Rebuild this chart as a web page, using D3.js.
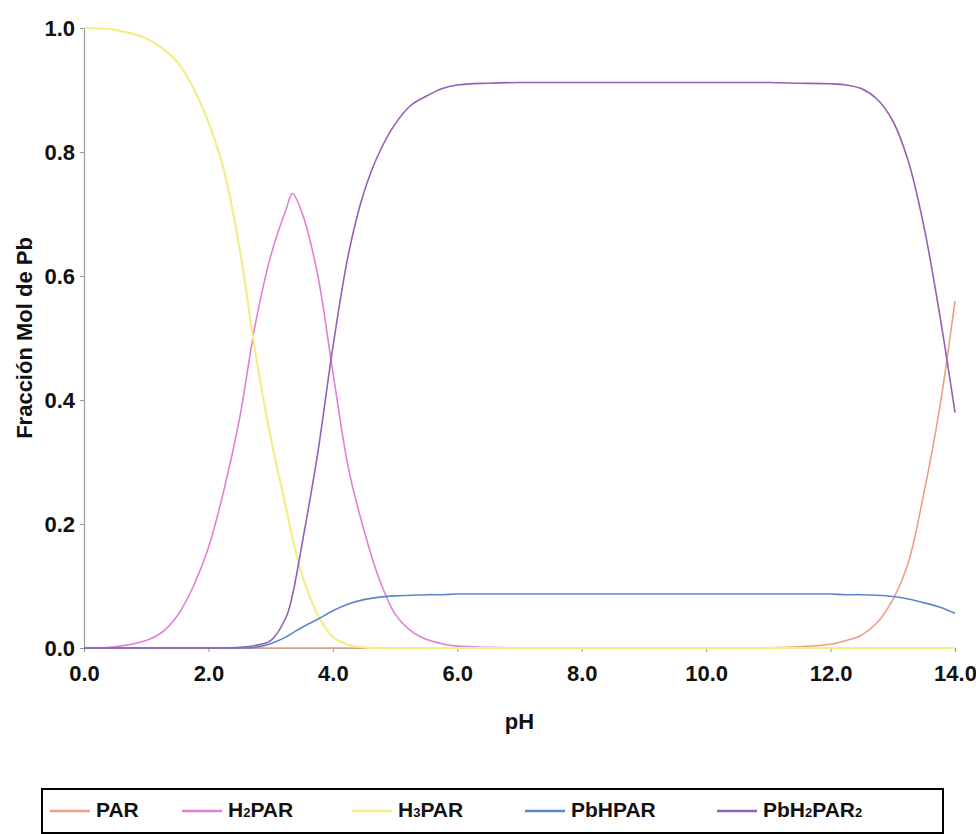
<!DOCTYPE html>
<html>
<head>
<meta charset="utf-8">
<script src="https://cdn.jsdelivr.net/npm/d3@7"></script>
<style>
  html, body { margin: 0; padding: 0; background: #fff; }
  svg text { font-family: "Liberation Sans", Arial, sans-serif; font-weight: bold; fill: #111; }
</style>
</head>
<body>
<svg id="chart" width="976" height="834"></svg>
<script>
// ---- Data ----
const phGrid = [0, 0.5, 1, 1.25, 1.5, 1.75, 2, 2.25, 2.5, 2.75, 3, 3.25, 3.35, 3.5, 3.75, 4, 4.25, 4.5, 4.75, 5,
                5.25, 5.5, 5.75, 6, 6.5, 7, 8, 9, 10, 11, 11.5, 12, 12.25, 12.5, 12.75, 13, 13.25, 13.5, 13.75, 14];

const parValues = [0, 0, 0, 0, 0, 0, 0, 0, 0, 0, 0, 0, 0, 0, 0, 0, 0, 0, 0, 0,
                   0, 0, 0, 0, 0, 0, 0, 0, 0, 0.0005, 0.002, 0.006, 0.012, 0.021, 0.041, 0.078, 0.138, 0.25, 0.385, 0.56];

const h2parValues = [0, 0.002, 0.012, 0.025, 0.052, 0.098, 0.162, 0.255, 0.37, 0.52, 0.632, 0.708, 0.733, 0.703, 0.605, 0.445, 0.29, 0.19, 0.11, 0.055,
                     0.028, 0.014, 0.007, 0.003, 0.001, 0, 0, 0, 0, 0, 0, 0, 0, 0, 0, 0, 0, 0, 0, 0];

const h3parValues = [1.0, 0.997, 0.983, 0.968, 0.945, 0.905, 0.848, 0.77, 0.645, 0.48, 0.34, 0.225, 0.178, 0.12, 0.055, 0.018, 0.005, 0.001, 0, 0,
                     0, 0, 0, 0, 0, 0, 0, 0, 0, 0, 0, 0, 0, 0, 0, 0, 0, 0, 0, 0];

const pbhparValues = [0, 0, 0, 0, 0, 0, 0, 0, 0, 0.001, 0.007, 0.018, 0.024, 0.033, 0.046, 0.06, 0.071, 0.078, 0.082, 0.084,
                      0.085, 0.086, 0.086, 0.087, 0.087, 0.087, 0.087, 0.087, 0.087, 0.087, 0.087, 0.087, 0.086, 0.086, 0.085, 0.083, 0.079, 0.073, 0.066, 0.056];

const pbh2par2Values = [0, 0, 0, 0, 0, 0, 0, 0, 0.001, 0.004, 0.012, 0.05, 0.085, 0.165, 0.31, 0.485, 0.635, 0.735, 0.80, 0.845,
                        0.875, 0.89, 0.902, 0.908, 0.911, 0.912, 0.912, 0.912, 0.912, 0.912, 0.911, 0.91, 0.908, 0.902, 0.885, 0.85, 0.785, 0.68, 0.54, 0.38];

const seriesNames = ["PAR", "H2PAR", "H3PAR", "PbHPAR", "PbH2PAR2"];
const seriesColors = ["#ec9f86", "#e27fd6", "#f3ee86", "#5b86cf", "#9460b4"];
const xTicks = [0, 2, 4, 6, 8, 10, 12, 14];
const yTicks = [0, 0.2, 0.4, 0.6, 0.8, 1.0];
const xTitle = "pH";
const yTitle = "Fracción Mol de Pb";

const seriesValues = [parValues, h2parValues, h3parValues, pbhparValues, pbh2par2Values];

// ---- Layout ----
const svg = d3.select("#chart");
const x = d3.scaleLinear().domain([0, 14]).range([84, 955]);
const y = d3.scaleLinear().domain([0, 1]).range([648, 28]);

// Axes
const xAxis = d3.axisBottom(x).tickValues(xTicks).tickFormat(d3.format(".1f")).tickSizeOuter(0).tickSize(4).tickPadding(13);
const yAxis = d3.axisLeft(y).tickValues(yTicks).tickFormat(d3.format(".1f")).tickSizeOuter(0).tickSize(4).tickPadding(5);

const gx = svg.append("g").attr("transform", `translate(0,${y(0)})`).call(xAxis);
const gy = svg.append("g").attr("transform", `translate(${x(0)},0)`).call(yAxis);
[gx, gy].forEach(g => {
  g.select(".domain").attr("stroke", "#9a9a9a").attr("stroke-width", 1.2);
  g.selectAll(".tick line").attr("stroke", "#9a9a9a");
  g.selectAll(".tick text").attr("font-size", 22).attr("font-weight", "bold")
    .attr("font-family", "'Liberation Sans', Arial, sans-serif").attr("fill", "#111");
});
gy.selectAll(".tick text").attr("dy", "0.36em");

// Titles
svg.append("text").attr("x", (x(0) + x(14)) / 2).attr("y", 729)
  .attr("text-anchor", "middle").attr("font-size", 22).text(xTitle);
svg.append("text").attr("transform", `translate(32,${(y(0) + y(1)) / 2}) rotate(-90)`)
  .attr("text-anchor", "middle").attr("font-size", 22).text(yTitle);

// Lines
const line = d3.line().x(d => x(d[0])).y(d => y(d[1])).curve(d3.curveCatmullRom.alpha(0.5));
seriesValues.forEach((vals, i) => {
  svg.append("path")
    .datum(phGrid.map((p, j) => [p, vals[j]]))
    .attr("fill", "none")
    .attr("stroke", seriesColors[i])
    .attr("stroke-width", i === 2 ? 2.2 : 1.6)
    .attr("d", line);
});

// Legend
const legendX = [50, 182, 352, 525, 717];
const lg = svg.append("g");
lg.append("rect").attr("x", 42).attr("y", 789).attr("width", 901).attr("height", 44)
  .attr("fill", "#fff").attr("stroke", "#000").attr("stroke-width", 2);
seriesNames.forEach((name, i) => {
  const lx = legendX[i];
  lg.append("line").attr("x1", lx).attr("x2", lx + 40).attr("y1", 811).attr("y2", 811)
    .attr("stroke", seriesColors[i]).attr("stroke-width", 2.5);
  const t = lg.append("text").attr("x", lx + 46).attr("y", 817).attr("font-size", 21);
  // render digits as subscripts
  name.split(/(\d)/).filter(s => s.length).forEach(part => {
    if (/^\d$/.test(part)) {
      t.append("tspan").attr("font-size", 13).text(part);
    } else {
      t.append("tspan").text(part);
    }
  });
});
</script>
</body>
</html>
